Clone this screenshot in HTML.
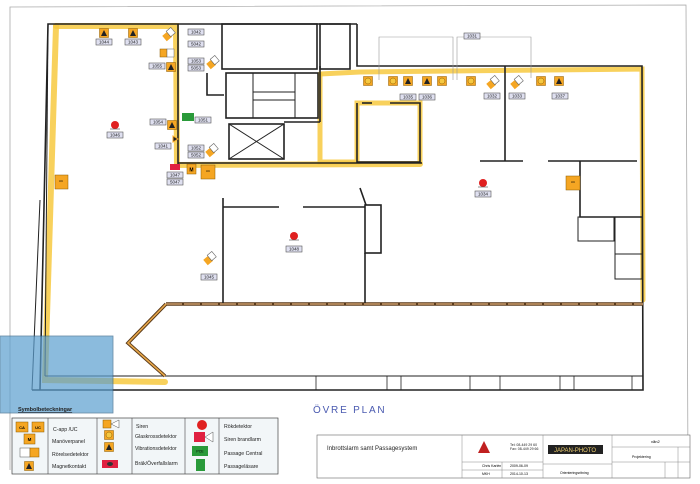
<!DOCTYPE html>
<html><head><meta charset="utf-8"><style>
html,body{margin:0;padding:0;background:#fff;}
svg{display:block;font-family:"Liberation Sans",sans-serif;}
.l{fill:#dfe0f0;stroke:#555;stroke-width:.6}
.lt{font-size:4.5px;fill:#222;text-anchor:middle}
.w{stroke:#222;fill:none;stroke-width:1.6}
.wt{stroke:#222;fill:none;stroke-width:1}
.y{stroke:#f7c940;fill:none;stroke-linecap:round;opacity:.85}
.o{fill:#f5a623;stroke:#8a5a00;stroke-width:.5}
.tx{font-size:5.2px;fill:#222}
</style></head><body>
<svg width="700" height="484" viewBox="0 0 700 484">
<defs>
<g id="lbl"><rect class="l" x="-8" y="-3" width="16" height="6"/></g>
<g id="tri"><rect class="o" x="-4.5" y="-4.5" width="9" height="9"/><polygon points="0,-3 3,3 -3,3" fill="#222"/></g>
<g id="cir"><rect class="o" x="-4.5" y="-4.5" width="9" height="9"/><circle r="3" fill="#f5c842" stroke="#8a5a00" stroke-width=".5"/></g>
<g id="gl"><rect x="-5" y="-3" width="7" height="7" fill="#f5a623" transform="rotate(-40)"/><rect x="1" y="-4" width="6" height="7" fill="#fff" stroke="#666" stroke-width=".6" transform="rotate(-40)"/></g>
<g id="smk"><circle r="4" fill="#e02020"/><line x1="-5" y1="4" x2="5" y2="4" stroke="#444" stroke-width=".6"/></g>
</defs>
<polyline points="10,470 10,7 686,5 688,472" fill="none" stroke="#aaa" stroke-width=".8"/>
<polyline class="y" stroke-width="6" points="56,26 176,26 177,165 420,164"/>
<polyline class="y" stroke-width="6" points="56,26 45,380 165,382"/>
<polyline class="y" stroke-width="5" points="320,74 320,162 357,162 357,103 420,103 420,162"/>
<polyline class="y" stroke-width="5" points="320,74 360,72 642,69 643,300"/>
<polyline class="w" points="40,390 48,24 357,24"/>
<polyline class="wt" points="32,390 40,200"/>
<polyline class="wt" points="45,376 48,25"/>
<polyline class="w" points="357,24 357,66 642,66 643,390 32,390"/>
<line class="wt" x1="45" y1="376" x2="643" y2="376"/>
<g stroke="#222" stroke-width=".8">
<line x1="316" y1="376" x2="316" y2="390"/><line x1="387" y1="376" x2="387" y2="390"/><line x1="401" y1="376" x2="401" y2="390"/><line x1="470" y1="376" x2="470" y2="390"/><line x1="500" y1="376" x2="500" y2="390"/><line x1="560" y1="376" x2="560" y2="390"/><line x1="574" y1="376" x2="574" y2="390"/><line x1="632" y1="376" x2="632" y2="390"/></g>
<polyline points="166,304 643,304" stroke="#5a3a1a" stroke-width="3.5" fill="none"/>
<polyline points="166,304 643,304" stroke="#c89a6a" stroke-width="1.6" fill="none" stroke-dasharray="16 2"/>
<polyline points="166,304 128,343 165,376" stroke="#5a3a1a" stroke-width="3.5" fill="none"/>
<polyline points="166,304 128,343 165,376" stroke="#e8a84a" stroke-width="1.6" fill="none"/>
<line class="w" x1="178" y1="24" x2="178" y2="165"/>
<line class="w" x1="178" y1="163" x2="422" y2="163"/>
<rect class="w" x="222" y="24" width="95" height="45"/>
<rect class="w" x="320" y="24" width="30" height="45"/>
<polyline class="w" points="207,73 207,95 224,95"/>
<rect class="w" x="226" y="73" width="92" height="45"/>
<rect class="wt" x="253" y="73" width="42" height="45"/>
<line class="wt" x1="253" y1="92" x2="295" y2="92"/><line class="wt" x1="253" y1="100" x2="295" y2="100"/>
<rect class="w" x="229" y="124" width="55" height="35"/>
<line class="wt" x1="229" y1="124" x2="284" y2="159"/><line class="wt" x1="284" y1="124" x2="229" y2="159"/>
<line class="w" x1="284" y1="122" x2="320" y2="122"/>
<polyline class="w" points="320,66 320,122"/>
<polyline class="w" points="357,103 357,162 420,162 420,103 390,103"/>
<line class="w" x1="362" y1="103" x2="372" y2="103"/>
<line class="w" x1="505" y1="66" x2="505" y2="161"/>
<line class="w" x1="480" y1="161" x2="523" y2="161"/>
<line class="w" x1="548" y1="161" x2="637" y2="161"/>
<polyline class="w" points="580,161 580,217 642,217"/>
<rect class="wt" x="578" y="217" width="36" height="24"/>
<rect class="wt" x="615" y="217" width="27" height="62"/>
<line class="wt" x1="615" y1="254" x2="642" y2="254"/>
<line class="w" x1="223" y1="198" x2="223" y2="303"/>
<line class="w" x1="223" y1="207" x2="279" y2="207"/>
<line class="w" x1="303" y1="207" x2="365" y2="207"/>
<rect class="w" x="365" y="205" width="16" height="48"/>
<line class="w" x1="365" y1="253" x2="365" y2="303"/>
<line class="w" x1="360" y1="188" x2="366" y2="205"/>
<g stroke="#999" stroke-width=".6" fill="none">
<polyline points="379,80 379,37 453,37 453,80"/><polyline points="457,80 457,37 531,37 531,78"/></g>
<rect x="0" y="336" width="113" height="77" fill="#5b9fd0" opacity=".7" stroke="#2a5a80" stroke-width=".8"/>
<use href="#tri" x="104" y="33"/><use href="#tri" x="133" y="33"/>
<use href="#gl" x="168" y="35"/><use href="#gl" x="212" y="63"/><use href="#gl" x="211" y="151"/><use href="#gl" x="209" y="259"/>
<use href="#gl" x="492" y="83"/><use href="#gl" x="516" y="83"/>
<rect class="o" x="160" y="49" width="7" height="8"/><rect x="167" y="49" width="7" height="8" fill="#fff" stroke="#666" stroke-width=".5"/>
<use href="#tri" x="171" y="67"/><use href="#tri" x="172" y="125"/>
<polygon points="173,136 178,139 173,142" fill="#222" stroke="#f5a623"/>
<rect x="182" y="113" width="12" height="8" fill="#2a9a3a"/>
<rect x="170" y="164" width="10" height="6" fill="#e02040"/>
<rect class="o" x="187" y="164" width="9" height="10"/><text x="191.5" y="171.5" font-size="5" text-anchor="middle" font-weight="bold">M</text>
<rect class="o" x="201" y="165" width="14" height="14"/><text x="208" y="172" font-size="3" text-anchor="middle">UC</text>
<rect class="o" x="55" y="175" width="13" height="14"/><text x="61" y="182" font-size="3" text-anchor="middle">UC</text>
<rect class="o" x="566" y="176" width="14" height="14"/><text x="573" y="183" font-size="3" text-anchor="middle">UC</text>
<use href="#smk" x="115" y="125"/><use href="#smk" x="294" y="236"/><use href="#smk" x="483" y="183"/>
<use href="#cir" x="368" y="81"/><use href="#cir" x="393" y="81"/><use href="#tri" x="408" y="81"/><use href="#tri" x="427" y="81"/><use href="#cir" x="442" y="81"/><use href="#cir" x="471" y="81"/><use href="#cir" x="541" y="81"/><use href="#tri" x="559" y="81"/>
<g>
<use href="#lbl" x="104" y="42"/><text class="lt" x="104" y="43.6">1044</text>
<use href="#lbl" x="133" y="42"/><text class="lt" x="133" y="43.6">1043</text>
<use href="#lbl" x="196" y="32"/><text class="lt" x="196" y="33.6">1042</text>
<use href="#lbl" x="196" y="44"/><text class="lt" x="196" y="45.6">5042</text>
<use href="#lbl" x="157" y="66"/><text class="lt" x="157" y="67.6">1055</text>
<use href="#lbl" x="196" y="61"/><text class="lt" x="196" y="62.6">1053</text>
<use href="#lbl" x="196" y="68"/><text class="lt" x="196" y="69.6">5053</text>
<use href="#lbl" x="203" y="120"/><text class="lt" x="203" y="121.6">1051</text>
<use href="#lbl" x="158" y="122"/><text class="lt" x="158" y="123.6">1054</text>
<use href="#lbl" x="163" y="146"/><text class="lt" x="163" y="147.6">1041</text>
<use href="#lbl" x="196" y="148"/><text class="lt" x="196" y="149.6">1052</text>
<use href="#lbl" x="196" y="155"/><text class="lt" x="196" y="156.6">5052</text>
<use href="#lbl" x="175" y="175"/><text class="lt" x="175" y="176.6">1047</text>
<use href="#lbl" x="175" y="182"/><text class="lt" x="175" y="183.6">5047</text>
<use href="#lbl" x="115" y="135"/><text class="lt" x="115" y="136.6">1046</text>
<use href="#lbl" x="294" y="249"/><text class="lt" x="294" y="250.6">1048</text>
<use href="#lbl" x="209" y="277"/><text class="lt" x="209" y="278.6">1045</text>
<use href="#lbl" x="472" y="36"/><text class="lt" x="472" y="37.6">1031</text>
<use href="#lbl" x="408" y="97"/><text class="lt" x="408" y="98.6">1035</text>
<use href="#lbl" x="427" y="97"/><text class="lt" x="427" y="98.6">1036</text>
<use href="#lbl" x="492" y="96"/><text class="lt" x="492" y="97.6">1032</text>
<use href="#lbl" x="517" y="96"/><text class="lt" x="517" y="97.6">1033</text>
<use href="#lbl" x="560" y="96"/><text class="lt" x="560" y="97.6">1037</text>
<use href="#lbl" x="483" y="194"/><text class="lt" x="483" y="195.6">1034</text>
</g>
<text x="313" y="413" font-size="10" fill="#4a5ab0" letter-spacing="1.8">ÖVRE  PLAN</text>
<text x="18" y="411" font-size="5.5" fill="#222" text-decoration="underline" font-weight="bold">Symbolbeteckningar</text>
<rect x="12" y="418" width="266" height="56" fill="#f2f6f8" stroke="#444" stroke-width=".7"/>
<g stroke="#444" stroke-width=".6"><line x1="48" y1="418" x2="48" y2="474"/><line x1="97" y1="418" x2="97" y2="474"/><line x1="132" y1="418" x2="132" y2="474"/><line x1="185" y1="418" x2="185" y2="474"/><line x1="219" y1="418" x2="219" y2="474"/></g>
<rect class="o" x="16" y="422" width="12" height="10"/><text x="22" y="429" font-size="4" text-anchor="middle" font-weight="bold">CA</text>
<rect class="o" x="32" y="422" width="12" height="10"/><text x="38" y="429" font-size="4" text-anchor="middle" font-weight="bold">UC</text>
<rect class="o" x="24" y="434" width="11" height="10"/><text x="29.5" y="441" font-size="4.5" text-anchor="middle" font-weight="bold">M</text>
<rect x="20" y="448" width="10" height="9" fill="#fff" stroke="#555" stroke-width=".5"/><rect class="o" x="30" y="448" width="9" height="9"/>
<use href="#tri" x="29" y="466"/>
<text class="tx" x="53" y="431">C-app /UC</text><text class="tx" x="52" y="443">Manöverpanel</text><text class="tx" x="52" y="456">Rörelsedetektor</text><text class="tx" x="52" y="468">Magnetkontakt</text>
<rect class="o" x="103" y="420" width="8" height="8"/><polygon points="111,424 119,420 119,428" fill="#fff" stroke="#555" stroke-width=".5"/>
<use href="#cir" x="109" y="435"/><use href="#tri" x="109" y="447"/>
<rect x="102" y="460" width="16" height="8" fill="#e02040"/><ellipse cx="110" cy="464" rx="3" ry="2" fill="#333"/>
<text class="tx" x="136" y="428">Siren</text><text class="tx" x="135" y="438">Glaskrossdetektor</text><text class="tx" x="135" y="450">Vibrationsdetektor</text><text class="tx" x="135" y="465">Bräk/Överfallslarm</text>
<circle cx="202" cy="425" r="5" fill="#e02020"/>
<rect x="194" y="432" width="11" height="10" fill="#e02040"/><polygon points="205,437 213,432 213,442" fill="#fff" stroke="#555" stroke-width=".5"/>
<rect x="192" y="446" width="16" height="10" fill="#2a9a3a"/><text x="200" y="452.5" font-size="3.5" text-anchor="middle">PCE</text>
<rect x="196" y="459" width="9" height="12" fill="#2a9a3a"/>
<text class="tx" x="224" y="428">Rökdetektor</text><text class="tx" x="224" y="441">Siren brandlarm</text><text class="tx" x="224" y="455">Passage Central</text><text class="tx" x="224" y="468">Passageläsare</text>
<rect x="317" y="435" width="373" height="43" fill="#fff" stroke="#666" stroke-width=".6"/>
<g stroke="#888" stroke-width=".5">
<line x1="462" y1="435" x2="462" y2="478"/><line x1="543" y1="435" x2="543" y2="478"/><line x1="612" y1="435" x2="612" y2="478"/><line x1="678" y1="447" x2="678" y2="478"/>
<line x1="462" y1="462" x2="543" y2="462"/><line x1="462" y1="470" x2="543" y2="470"/><line x1="502" y1="462" x2="502" y2="478"/>
<line x1="543" y1="464" x2="612" y2="464"/><line x1="612" y1="447" x2="690" y2="447"/><line x1="612" y1="462" x2="690" y2="462"/><line x1="665" y1="462" x2="665" y2="478"/></g>
<text x="327" y="450" font-size="6" fill="#222">Inbrottslarm samt Passagesystem</text>
<polygon points="484,441 478,453 490,453" fill="#c02020"/>
<text x="510" y="446" font-size="3.5" fill="#222">Tel: 08-449 29 60</text><text x="510" y="450" font-size="3.5" fill="#222">Fax: 08-449 29 66</text>
<rect x="548" y="445" width="55" height="9" fill="#222"/><text x="575" y="452" font-size="6" fill="#f0d070" text-anchor="middle">JAPAN-PHOTO</text>
<text x="482" y="467" font-size="3.5">Chris Karlén</text><text x="510" y="467" font-size="3.5">2009-06-09</text>
<text x="482" y="475" font-size="3.5">MKH</text><text x="510" y="475" font-size="3.5">2014-10-13</text>
<text x="560" y="474" font-size="3.5">Orienteringsritning</text>
<text x="651" y="443" font-size="4">vån2</text><text x="632" y="458" font-size="3.5">Projektering</text>
</svg>
</body></html>
